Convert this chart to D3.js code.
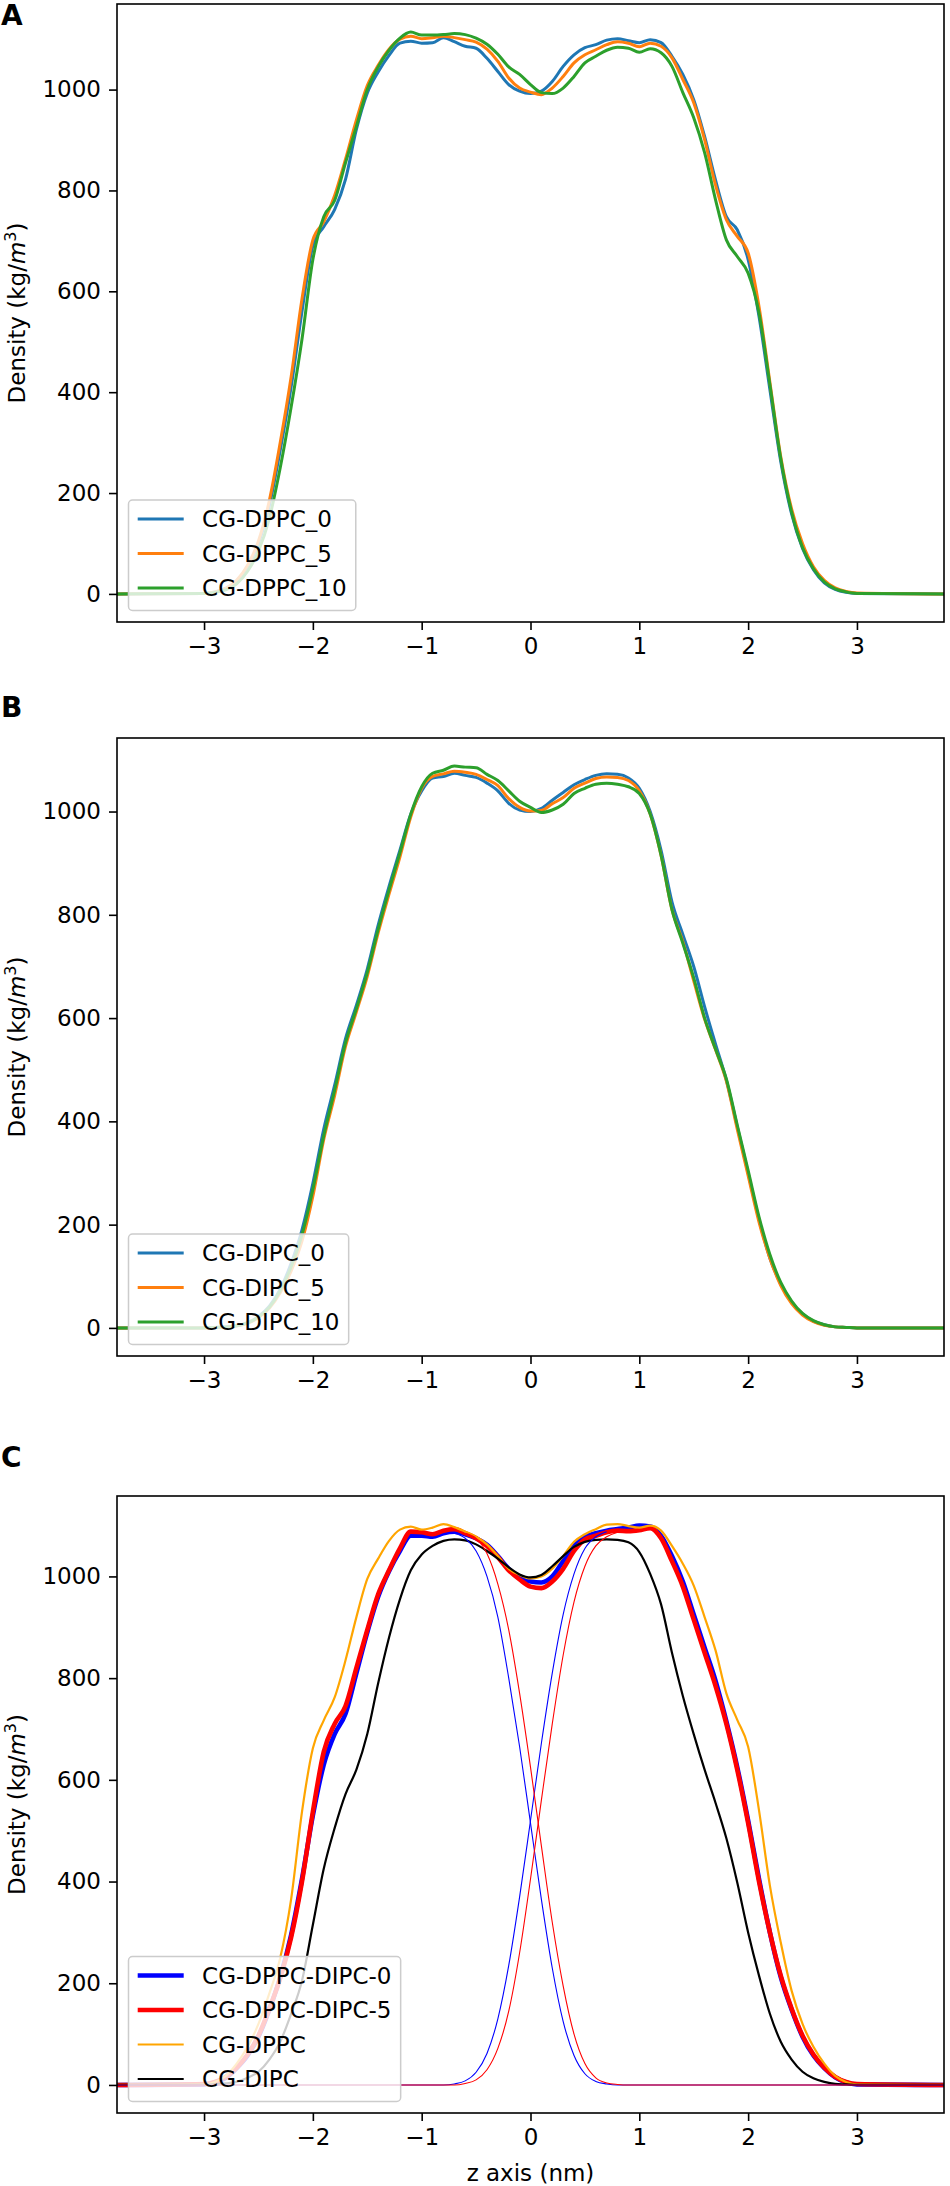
<!DOCTYPE html>
<html lang="en">
<head>
  <meta charset="UTF-8">
  <title>Density profiles</title>
  <style>
    body { margin: 0; background: #fff; }
    svg text { font-family: "DejaVu Sans", sans-serif; }
  </style>
</head>
<body>
  <svg id="fig" width="950" height="2186"></svg>
  <script src="https://cdn.jsdelivr.net/npm/d3@7"></script>
  <script>
    // z positions (nm) shared by the full profiles
    const zGrid = [-3.8,
      -3.0, -2.9, -2.8, -2.7, -2.6, -2.5, -2.4, -2.3, -2.2, -2.1,
      -2.0, -1.9, -1.8, -1.7, -1.6, -1.5, -1.4, -1.3, -1.2, -1.1,
      -1.0, -0.9, -0.8, -0.7, -0.6, -0.5, -0.4, -0.3, -0.2, -0.1,
      0.0, 0.1, 0.2, 0.3, 0.4, 0.5, 0.6, 0.7, 0.8, 0.9,
      1.0, 1.1, 1.2, 1.3, 1.4, 1.5, 1.6, 1.7, 1.8, 1.9,
      2.0, 2.1, 2.2, 2.3, 2.4, 2.5, 2.6, 2.7, 2.8, 2.9,
      3.0, 3.8];

    // panel A
    const dppc0 = [0,
      1, 4, 11, 26, 55, 100, 175, 285, 410, 560,
      690, 728, 762, 822, 921, 993, 1035, 1068, 1092, 1096,
      1092, 1093, 1103, 1095, 1086, 1082, 1062, 1036, 1010, 997,
      992, 997, 1016, 1046, 1069, 1083, 1089, 1098, 1101, 1097,
      1093, 1099, 1093, 1066, 1030, 980, 907, 821, 748, 722,
      663, 550, 405, 262, 158, 90, 48, 22, 9, 3,
      1, 0];
    const dppc5 = [0,
      1, 4, 11, 27, 57, 105, 185, 300, 430, 585,
      702, 738, 790, 862, 940, 1008, 1048, 1080, 1100, 1106,
      1101, 1103, 1106, 1103, 1099, 1094, 1080, 1056, 1023, 1003,
      995, 990, 1003, 1026, 1053, 1069, 1079, 1089, 1095, 1092,
      1085, 1092, 1086, 1063, 1020, 974, 901, 811, 742, 709,
      676, 570, 420, 272, 168, 100, 54, 27, 12, 5,
      2, 0];
    const dppc10 = [0,
      1, 3, 8, 20, 45, 85, 150, 250, 370, 505,
      663, 748, 780, 855, 927, 1000, 1045, 1078, 1102, 1114,
      1108, 1108, 1109, 1111, 1109, 1102, 1090, 1070, 1045, 1030,
      1010, 994, 992, 1003, 1026, 1053, 1066, 1078, 1084, 1082,
      1074, 1081, 1073, 1046, 994, 944, 875, 782, 702, 669,
      636, 557, 415, 268, 162, 92, 50, 24, 10, 4,
      1, 0];

    // panel B
    const dipc0 = [0,
      0, 1, 2, 4, 10, 22, 42, 75, 125, 190,
      280, 385, 470, 560, 625, 695, 780, 855, 925, 995,
      1040, 1065, 1068, 1074, 1070, 1066, 1055, 1040, 1016, 1003,
      1000, 1006, 1022, 1037, 1052, 1062, 1070, 1073, 1072, 1065,
      1045, 1000, 925, 825, 762, 700, 622, 550, 480, 390,
      300, 210, 135, 85, 50, 27, 13, 6, 2, 1,
      0, 0];
    const dipc5 = [0,
      0, 1, 1, 4, 9, 20, 38, 68, 110, 168,
      255, 365, 450, 545, 612, 681, 765, 840, 912, 990,
      1045, 1068, 1073, 1078, 1076, 1072, 1062, 1050, 1025, 1008,
      1001, 1002, 1015, 1027, 1045, 1055, 1064, 1067, 1066, 1060,
      1040, 995, 915, 810, 748, 672, 598, 539, 478, 385,
      295, 205, 135, 82, 47, 25, 12, 5, 2, 1,
      0, 0];
    const dipc10 = [0,
      0, 1, 2, 4, 10, 21, 40, 72, 118, 180,
      268, 372, 460, 552, 618, 688, 772, 848, 920, 995,
      1048, 1074, 1080, 1088, 1086, 1085, 1072, 1060, 1040, 1020,
      1008, 998, 1003, 1014, 1035, 1045, 1053, 1055, 1053, 1048,
      1035, 995, 915, 810, 745, 678, 600, 540, 482, 393,
      305, 215, 142, 88, 52, 28, 14, 6, 2, 1,
      0, 0];

    // panel C, totals
    const mix0 = [0,
      1, 5, 14, 33, 58, 95, 148, 212, 295, 405,
      530, 630, 690, 730, 810, 890, 960, 1010, 1050, 1080,
      1080, 1078, 1085, 1088, 1083, 1075, 1062, 1040, 1015, 998,
      990, 988, 1000, 1030, 1060, 1078, 1085, 1090, 1093, 1096,
      1100, 1098, 1080, 1040, 990, 925, 860, 795, 715, 625,
      520, 405, 300, 212, 148, 95, 58, 33, 15, 5,
      1, 0];
    const mix5 = [0,
      2, 6, 16, 34, 60, 97, 150, 210, 290, 400,
      537, 655, 710, 745, 820, 895, 965, 1012, 1055, 1088,
      1087, 1083, 1090, 1093, 1085, 1075, 1060, 1038, 1012, 994,
      980, 977, 990, 1015, 1050, 1073, 1080, 1087, 1090, 1089,
      1091, 1095, 1075, 1030, 980, 915, 850, 785, 710, 620,
      515, 400, 300, 215, 150, 97, 60, 34, 16, 6,
      2, 0];
    const pureDppc = [0,
      1, 6, 18, 42, 75, 120, 180, 250, 365, 537,
      662, 717, 762, 835, 920, 995, 1035, 1070, 1092, 1098,
      1092, 1096, 1103, 1097, 1088, 1078, 1063, 1040, 1015, 1003,
      996, 1000, 1015, 1040, 1068, 1083, 1093, 1102, 1103, 1099,
      1096, 1100, 1090, 1060, 1025, 982, 920, 855, 770, 718,
      665, 540, 392, 280, 185, 120, 75, 42, 18, 6,
      1, 0];
    const pureDipc = [0,
      0, 1, 3, 6, 14, 26, 50, 85, 140, 205,
      315, 425, 505, 572, 620, 690, 790, 880, 955, 1012,
      1043, 1060, 1070, 1073, 1071, 1063, 1050, 1035, 1018, 1004,
      998, 1003, 1020, 1040, 1058, 1068, 1072, 1073, 1072, 1067,
      1048, 1005, 945, 850, 765, 690, 620, 555, 485, 398,
      300, 215, 140, 85, 50, 26, 13, 6, 2, 1,
      0, 0];

    // panel C, single leaflets (thin lines)
    const zLowerMix0 = [-0.7, -0.6, -0.5, -0.4, -0.3, -0.2, -0.1, 0.0, 0.1, 0.2, 0.3, 0.4, 0.5, 0.6, 0.7, 0.8, 3.8];
    const lowerMix0 = [1085, 1075, 1050, 1000, 920, 800, 665, 515, 365, 230, 125, 58, 22, 7, 2, 0, 0];
    const zUpperMix0 = [-3.8, -0.8, -0.7, -0.6, -0.5, -0.4, -0.3, -0.2, -0.1, 0.0, 0.1, 0.2, 0.3, 0.4, 0.5, 0.6, 0.7];
    const upperMix0 = [0, 0, 2, 8, 25, 62, 130, 235, 370, 520, 672, 810, 925, 1005, 1055, 1078, 1088];
    const zLowerMix5 = [-0.6, -0.5, -0.4, -0.3, -0.2, -0.1, 0.0, 0.1, 0.2, 0.3, 0.4, 0.5, 0.6, 0.7, 0.8, 0.9, 3.8];
    const lowerMix5 = [1085, 1075, 1045, 985, 895, 770, 625, 470, 320, 195, 100, 42, 14, 4, 1, 0, 0];
    const zUpperMix5 = [-3.8, -0.7, -0.6, -0.5, -0.4, -0.3, -0.2, -0.1, 0.0, 0.1, 0.2, 0.3, 0.4, 0.5, 0.6, 0.7, 0.8];
    const upperMix5 = [0, 0, 3, 10, 30, 72, 145, 260, 405, 560, 710, 845, 950, 1020, 1060, 1078, 1087];

    const xTicks = [-3, -2, -1, 0, 1, 2, 3];
    const yTicks = [0, 200, 400, 600, 800, 1000];

    const tab = ['#1f77b4', '#ff7f0e', '#2ca02c'];

    const panels = [
      { label: 'A', labelY: 25, top: 4, bottom: 622, series: [
        { name: 'CG-DPPC_0', z: zGrid, v: dppc0, color: tab[0], w: 3, legend: true },
        { name: 'CG-DPPC_5', z: zGrid, v: dppc5, color: tab[1], w: 3, legend: true },
        { name: 'CG-DPPC_10', z: zGrid, v: dppc10, color: tab[2], w: 3, legend: true }
      ]},
      { label: 'B', labelY: 717, top: 738, bottom: 1356, series: [
        { name: 'CG-DIPC_0', z: zGrid, v: dipc0, color: tab[0], w: 3, legend: true },
        { name: 'CG-DIPC_5', z: zGrid, v: dipc5, color: tab[1], w: 3, legend: true },
        { name: 'CG-DIPC_10', z: zGrid, v: dipc10, color: tab[2], w: 3, legend: true }
      ]},
      { label: 'C', labelY: 1467, top: 1496, bottom: 2113, xlabel: true, series: [
        { name: 'CG-DPPC-DIPC-0', z: zGrid, v: mix0, color: '#0000ff', w: 4.6, legend: true },
        { name: 'CG-DPPC-DIPC-5', z: zGrid, v: mix5, color: '#ff0000', w: 4.6, legend: true },
        { name: 'CG-DPPC', z: zGrid, v: pureDppc, color: '#ffa500', w: 2.2, legend: true },
        { name: 'CG-DIPC', z: zGrid, v: pureDipc, color: '#000000', w: 2.2, legend: true },
        { z: zLowerMix0, v: lowerMix0, color: '#0000ff', w: 1.1 },
        { z: zUpperMix0, v: upperMix0, color: '#0000ff', w: 1.1 },
        { z: zLowerMix5, v: lowerMix5, color: '#ff0000', w: 1.1 },
        { z: zUpperMix5, v: upperMix5, color: '#ff0000', w: 1.1 }
      ]}
    ];

    const svg = d3.select('#fig');
    const left = 117, right = 944;
    const fs = 23;
    const x = d3.scaleLinear().domain([-3.8, 3.8]).range([left, right]);
    const fmt = d3.format('d');

    panels.forEach(function(p, pi) {
      // matplotlib style 5% margin around the data
      const vmax = d3.max(p.series, s => d3.max(s.v));
      const y = d3.scaleLinear().domain([-0.05 * vmax, 1.05 * vmax]).range([p.bottom, p.top]);
      const g = svg.append('g');

      const clipId = 'clip' + pi;
      g.append('clipPath').attr('id', clipId).append('rect')
        .attr('x', left).attr('y', p.top).attr('width', right - left).attr('height', p.bottom - p.top);

      const line = d3.line()
        .x(d => x(d[0]))
        .y(d => y(d[1]))
        .curve(d3.curveMonotoneX);

      g.append('g').attr('clip-path', 'url(#' + clipId + ')')
        .selectAll('path').data(p.series).enter().append('path')
        .attr('d', s => line(s.z.map((z, i) => [z, s.v[i]])))
        .attr('fill', 'none')
        .attr('stroke', s => s.color)
        .attr('stroke-width', s => s.w)
        .attr('stroke-linejoin', 'round');

      // axes
      const ax = g.append('g').attr('transform', 'translate(0,' + p.bottom + ')')
        .call(d3.axisBottom(x).tickValues(xTicks).tickFormat(fmt).tickSize(8).tickPadding(8));
      const ay = g.append('g').attr('transform', 'translate(' + left + ',0)')
        .call(d3.axisLeft(y).tickValues(yTicks).tickFormat(fmt).tickSize(8).tickPadding(8));
      [ax, ay].forEach(a => {
        a.attr('font-size', fs).attr('font-family', '"DejaVu Sans", sans-serif');
        a.select('.domain').remove();
        a.selectAll('.tick line').attr('stroke', '#000').attr('stroke-width', 1.6);
        a.selectAll('.tick text').attr('fill', '#000');
      });

      g.append('rect')
        .attr('x', left).attr('y', p.top)
        .attr('width', right - left).attr('height', p.bottom - p.top)
        .attr('fill', 'none').attr('stroke', '#000').attr('stroke-width', 1.6);

      // y label
      const yl = g.append('text')
        .attr('transform', 'translate(25,' + ((p.top + p.bottom) / 2) + ') rotate(-90)')
        .attr('text-anchor', 'middle')
        .attr('font-size', fs);
      yl.append('tspan').text('Density (kg/');
      yl.append('tspan').attr('font-style', 'italic').text('m');
      yl.append('tspan').attr('font-size', 16).attr('dy', -9).text('3');
      yl.append('tspan').attr('dy', 9).text(')');

      // panel letter
      g.append('text').attr('x', 1).attr('y', p.labelY)
        .attr('font-family', '"Liberation Sans", Arial, sans-serif')
        .attr('font-weight', 'bold').attr('font-size', 28)
        .text(p.label);

      if (p.xlabel) {
        g.append('text').attr('x', (left + right) / 2).attr('y', 2181)
          .attr('text-anchor', 'middle').attr('font-size', fs)
          .text('z axis (nm)');
      }

      // legend, lower left
      const items = p.series.filter(s => s.legend);
      const n = items.length;
      const lgBottom = p.bottom - 11.5;
      const rowY = i => lgBottom - 22.5 - (n - 1 - i) * 34.5;
      const lgLeft = left + 11.5;
      const lg = g.append('g');
      const box = lg.append('rect')
        .attr('x', lgLeft).attr('y', rowY(0) - 19)
        .attr('height', lgBottom - (rowY(0) - 19))
        .attr('rx', 4)
        .attr('fill', '#fff').attr('fill-opacity', 0.8)
        .attr('stroke', '#cccccc').attr('stroke-width', 1.5);
      let maxW = 0;
      items.forEach(function(s, i) {
        lg.append('line')
          .attr('x1', lgLeft + 9.2).attr('x2', lgLeft + 9.2 + 46)
          .attr('y1', rowY(i)).attr('y2', rowY(i))
          .attr('stroke', s.color).attr('stroke-width', s.w);
        const t = lg.append('text')
          .attr('x', lgLeft + 9.2 + 46 + 18.4).attr('y', rowY(i)).attr('dy', '0.35em')
          .attr('font-size', fs).text(s.name);
        maxW = Math.max(maxW, t.node().getComputedTextLength());
      });
      box.attr('width', 9.2 + 46 + 18.4 + maxW + 9.2);
    });
  </script>
</body>
</html>
